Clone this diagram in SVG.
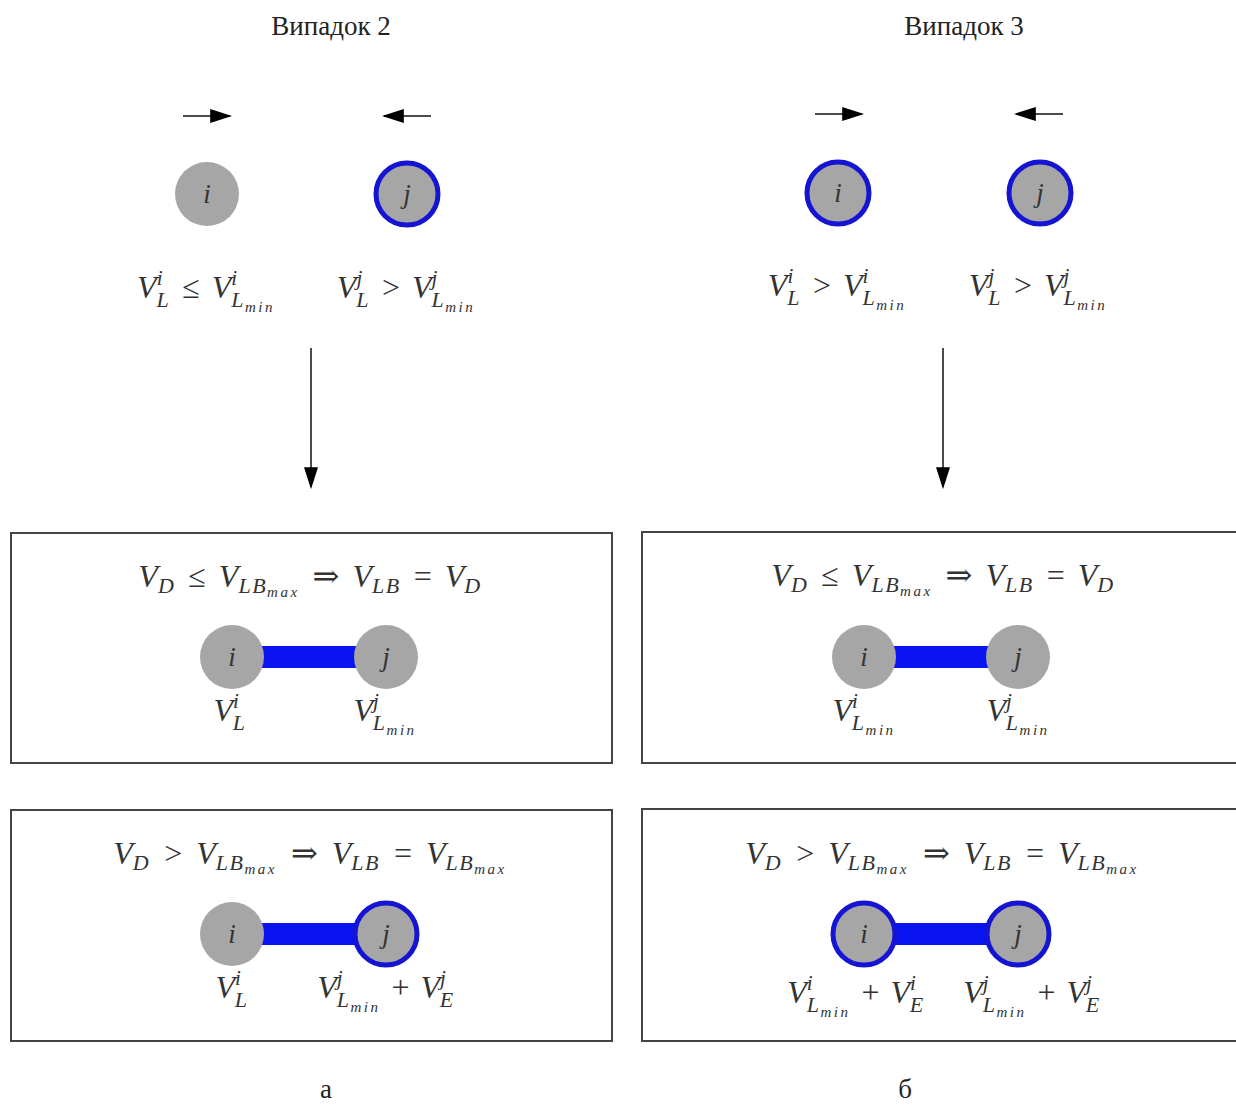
<svg xmlns="http://www.w3.org/2000/svg" width="1236" height="1105" viewBox="0 0 1236 1105">
<style>
.t{font-family:"Liberation Serif","DejaVu Serif",serif;fill:#222;}
.title{font-size:27px;}
.cap{font-size:27px;}
.m{font-family:"Liberation Serif","DejaVu Serif",serif;font-style:italic;font-size:32px;fill:#333;}
.sp{font-size:21px;}
.sb{font-size:22px;letter-spacing:1.5px;}
.ss{font-size:15px;letter-spacing:2.5px;}
.op{font-style:normal;}
.nl{font-family:"Liberation Serif","DejaVu Serif",serif;font-style:italic;font-size:27px;fill:#333;}
.n{fill:#a6a6a6;}
.nb{fill:#a6a6a6;stroke:#1414d2;stroke-width:5;}
.box{fill:#fff;stroke:#444;stroke-width:2;}
.bar{fill:#0a14f0;}
.ln{stroke:#111;stroke-width:1.5;fill:none;}
</style>
<defs>
<marker id="ah2" viewBox="0 0 10 10" refX="9" refY="5" markerWidth="22" markerHeight="14" markerUnits="userSpaceOnUse" orient="auto" preserveAspectRatio="none">
<path d="M0,0 L10,5 L0,10 z" fill="#000"/>
</marker>
</defs>
<rect width="1236" height="1105" fill="#fff"/>

<text class="t title" x="331" y="35" text-anchor="middle">Випадок 2</text>
<text class="t title" x="964" y="35" text-anchor="middle">Випадок 3</text>

<g id="connectors">
<line class="ln" x1="183" y1="116" x2="230" y2="116" marker-end="url(#ah2)"/>
<line class="ln" x1="431" y1="116" x2="384" y2="116" marker-end="url(#ah2)"/>
<line class="ln" x1="815" y1="114" x2="862" y2="114" marker-end="url(#ah2)"/>
<line class="ln" x1="1063" y1="114" x2="1016" y2="114" marker-end="url(#ah2)"/>
<line class="ln" x1="311" y1="348" x2="311" y2="487" stroke-width="1.2" marker-end="url(#ah2)"/>
<line class="ln" x1="943" y1="348" x2="943" y2="487" stroke-width="1.2" marker-end="url(#ah2)"/>
</g>

<g id="case2-i">
<circle class="n" cx="207" cy="194" r="32"/>
<text class="nl" x="207" y="203" text-anchor="middle">i</text>
<text class="m" x="206" y="298" text-anchor="middle">V<tspan class="sp" dy="-13">i</tspan><tspan class="sb" dx="-6" dy="22">L</tspan><tspan class="op" dx="4" dy="-9"> ≤ </tspan><tspan dx="4">V</tspan><tspan class="sp" dy="-13">i</tspan><tspan class="sb" dx="-6" dy="22">L</tspan><tspan class="ss" dy="5">min</tspan></text>
</g>
<g id="case2-j">
<circle class="nb" cx="407" cy="194" r="31"/>
<text class="nl" x="407" y="203" text-anchor="middle">j</text>
<text class="m" x="406" y="298" text-anchor="middle">V<tspan class="sp" dy="-13">j</tspan><tspan class="sb" dx="-6" dy="22">L</tspan><tspan class="op" dx="4" dy="-9"> &gt; </tspan><tspan dx="4">V</tspan><tspan class="sp" dy="-13">j</tspan><tspan class="sb" dx="-6" dy="22">L</tspan><tspan class="ss" dy="5">min</tspan></text>
</g>
<g id="case3-i">
<circle class="nb" cx="838" cy="193" r="31"/>
<text class="nl" x="838" y="202" text-anchor="middle">i</text>
<text class="m" x="837" y="296" text-anchor="middle">V<tspan class="sp" dy="-13">i</tspan><tspan class="sb" dx="-6" dy="22">L</tspan><tspan class="op" dx="4" dy="-9"> &gt; </tspan><tspan dx="4">V</tspan><tspan class="sp" dy="-13">i</tspan><tspan class="sb" dx="-6" dy="22">L</tspan><tspan class="ss" dy="5">min</tspan></text>
</g>
<g id="case3-j">
<circle class="nb" cx="1040" cy="193" r="31"/>
<text class="nl" x="1040" y="202" text-anchor="middle">j</text>
<text class="m" x="1038" y="296" text-anchor="middle">V<tspan class="sp" dy="-13">j</tspan><tspan class="sb" dx="-6" dy="22">L</tspan><tspan class="op" dx="4" dy="-9"> &gt; </tspan><tspan dx="4">V</tspan><tspan class="sp" dy="-13">j</tspan><tspan class="sb" dx="-6" dy="22">L</tspan><tspan class="ss" dy="5">min</tspan></text>
</g>

<g id="box-a1">
<rect class="box" x="11" y="533" width="601" height="230"/>
<text class="m" x="310" y="587" text-anchor="middle">V<tspan class="sb" dy="6">D</tspan><tspan class="op" dx="5" dy="-6"> ≤ </tspan><tspan dx="5">V</tspan><tspan class="sb" dy="6">LB</tspan><tspan class="ss" dy="4">max</tspan><tspan class="op" dx="5" dy="-10"> ⇒ </tspan><tspan dx="5">V</tspan><tspan class="sb" dy="6">LB</tspan><tspan class="op" dx="5" dy="-6"> = </tspan><tspan dx="5">V</tspan><tspan class="sb" dy="6">D</tspan></text>
<rect class="bar" x="255" y="646" width="110" height="22"/>
<circle class="n" cx="232" cy="657" r="32"/>
<circle class="n" cx="386" cy="657" r="32"/>
<text class="nl" x="232" y="666" text-anchor="middle">i</text>
<text class="nl" x="386" y="666" text-anchor="middle">j</text>
<text class="m" x="230" y="721" text-anchor="middle">V<tspan class="sp" dy="-13">i</tspan><tspan class="sb" dx="-6" dy="22">L</tspan></text>
<text class="m" x="385" y="721" text-anchor="middle">V<tspan class="sp" dy="-13">j</tspan><tspan class="sb" dx="-6" dy="22">L</tspan><tspan class="ss" dy="5">min</tspan></text>
</g>

<g id="box-b1">
<rect class="box" x="642" y="532" width="600" height="231"/>
<text class="m" x="943" y="586" text-anchor="middle">V<tspan class="sb" dy="6">D</tspan><tspan class="op" dx="5" dy="-6"> ≤ </tspan><tspan dx="5">V</tspan><tspan class="sb" dy="6">LB</tspan><tspan class="ss" dy="4">max</tspan><tspan class="op" dx="5" dy="-10"> ⇒ </tspan><tspan dx="5">V</tspan><tspan class="sb" dy="6">LB</tspan><tspan class="op" dx="5" dy="-6"> = </tspan><tspan dx="5">V</tspan><tspan class="sb" dy="6">D</tspan></text>
<rect class="bar" x="887" y="646" width="110" height="22"/>
<circle class="n" cx="864" cy="657" r="32"/>
<circle class="n" cx="1018" cy="657" r="32"/>
<text class="nl" x="864" y="666" text-anchor="middle">i</text>
<text class="nl" x="1018" y="666" text-anchor="middle">j</text>
<text class="m" x="864" y="721" text-anchor="middle">V<tspan class="sp" dy="-13">i</tspan><tspan class="sb" dx="-6" dy="22">L</tspan><tspan class="ss" dy="5">min</tspan></text>
<text class="m" x="1018" y="721" text-anchor="middle">V<tspan class="sp" dy="-13">j</tspan><tspan class="sb" dx="-6" dy="22">L</tspan><tspan class="ss" dy="5">min</tspan></text>
</g>

<g id="box-a2">
<rect class="box" x="11" y="810" width="601" height="231"/>
<text class="m" x="310" y="864" text-anchor="middle">V<tspan class="sb" dy="6">D</tspan><tspan class="op" dx="6" dy="-6"> &gt; </tspan><tspan dx="6">V</tspan><tspan class="sb" dy="6">LB</tspan><tspan class="ss" dy="4">max</tspan><tspan class="op" dx="6" dy="-10"> ⇒ </tspan><tspan dx="6">V</tspan><tspan class="sb" dy="6">LB</tspan><tspan class="op" dx="6" dy="-6"> = </tspan><tspan dx="6">V</tspan><tspan class="sb" dy="6">LB</tspan><tspan class="ss" dy="4">max</tspan></text>
<rect class="bar" x="255" y="923" width="110" height="22"/>
<circle class="n" cx="232" cy="934" r="32"/>
<circle class="nb" cx="386" cy="934" r="31"/>
<text class="nl" x="232" y="943" text-anchor="middle">i</text>
<text class="nl" x="386" y="943" text-anchor="middle">j</text>
<text class="m" x="232" y="998" text-anchor="middle">V<tspan class="sp" dy="-13">i</tspan><tspan class="sb" dx="-6" dy="22">L</tspan></text>
<text class="m" x="386" y="998" text-anchor="middle">V<tspan class="sp" dy="-13">j</tspan><tspan class="sb" dx="-6" dy="22">L</tspan><tspan class="ss" dy="5">min</tspan><tspan class="op" dx="3" dy="-14"> + </tspan><tspan dx="3">V</tspan><tspan class="sp" dy="-13">j</tspan><tspan class="sb" dx="-6" dy="22">E</tspan></text>
</g>

<g id="box-b2">
<rect class="box" x="642" y="809" width="600" height="232"/>
<text class="m" x="942" y="864" text-anchor="middle">V<tspan class="sb" dy="6">D</tspan><tspan class="op" dx="6" dy="-6"> &gt; </tspan><tspan dx="6">V</tspan><tspan class="sb" dy="6">LB</tspan><tspan class="ss" dy="4">max</tspan><tspan class="op" dx="6" dy="-10"> ⇒ </tspan><tspan dx="6">V</tspan><tspan class="sb" dy="6">LB</tspan><tspan class="op" dx="6" dy="-6"> = </tspan><tspan dx="6">V</tspan><tspan class="sb" dy="6">LB</tspan><tspan class="ss" dy="4">max</tspan></text>
<rect class="bar" x="887" y="923" width="110" height="22"/>
<circle class="nb" cx="864" cy="934" r="31"/>
<circle class="nb" cx="1018" cy="934" r="31"/>
<text class="nl" x="864" y="943" text-anchor="middle">i</text>
<text class="nl" x="1018" y="943" text-anchor="middle">j</text>
<text class="m" x="856" y="1003" text-anchor="middle">V<tspan class="sp" dy="-13">i</tspan><tspan class="sb" dx="-6" dy="22">L</tspan><tspan class="ss" dy="5">min</tspan><tspan class="op" dx="3" dy="-14"> + </tspan><tspan dx="3">V</tspan><tspan class="sp" dy="-13">i</tspan><tspan class="sb" dx="-6" dy="22">E</tspan></text>
<text class="m" x="1032" y="1003" text-anchor="middle">V<tspan class="sp" dy="-13">j</tspan><tspan class="sb" dx="-6" dy="22">L</tspan><tspan class="ss" dy="5">min</tspan><tspan class="op" dx="3" dy="-14"> + </tspan><tspan dx="3">V</tspan><tspan class="sp" dy="-13">j</tspan><tspan class="sb" dx="-6" dy="22">E</tspan></text>
</g>

<text class="t cap" x="326" y="1098" text-anchor="middle">а</text>
<text class="t cap" x="905" y="1098" text-anchor="middle">б</text>
</svg>
